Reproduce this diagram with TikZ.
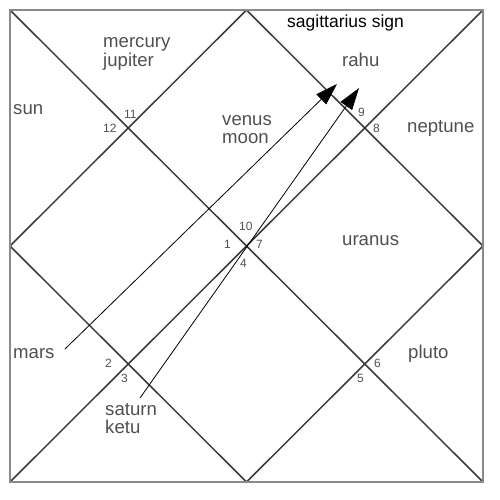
\documentclass[tikz,border=0pt]{standalone}
\usepackage{fontspec}
\setmainfont{Liberation Sans}
\usetikzlibrary{arrows.meta}
\definecolor{labelgray}{HTML}{505050}
\definecolor{framegray}{HTML}{8A8A8A}
\definecolor{linegray}{HTML}{3A3A3A}
\begin{document}
\begin{tikzpicture}[x=1pt,y=-1pt,
  lbl/.style={anchor=base west,inner sep=0pt,text=labelgray,font=\fontsize{18.6}{19}\selectfont},
  num/.style={anchor=base west,inner sep=0pt,text=labelgray,font=\fontsize{12}{13}\selectfont},
  frame/.style={draw=framegray,line width=2.4pt},
  grid/.style={draw=linegray,line width=1.5pt},
  pointer/.style={draw=black,line width=0.8pt,-{Triangle[length=22pt,width=14pt]}}]
\useasboundingbox (0,0) rectangle (500,500);
% corners and midpoints
\coordinate (tl) at (10,10);
\coordinate (tr) at (483,10);
\coordinate (br) at (483,482);
\coordinate (bl) at (10,482);
\coordinate (tm) at (246.5,10);
\coordinate (rm) at (483,246);
\coordinate (bm) at (246.5,482);
\coordinate (lm) at (10,246);
% lines
\draw[grid] (tl) -- (br);
\draw[grid] (bl) -- (tr);
\draw[grid] (tm) -- (rm) -- (bm) -- (lm) -- cycle;
\draw[frame] (tl) rectangle (br);
% labels
\node[black,anchor=base west,inner sep=0pt,font=\fontsize{17.5}{18}\selectfont] (sag) at (287,28) {sagittarius sign};
\node[lbl] (mercury) at (103,48) {mercury};
\node[lbl] (jupiter) at (103,67) {jupiter};
\node[lbl] (sun) at (13,114) {sun};
\node[lbl] (venus) at (222,125) {venus};
\node[lbl] (moon) at (222,143) {moon};
\node[lbl] (rahu) at (342,67) {rahu};
\node[lbl] (neptune) at (407,132) {neptune};
\node[lbl] (uranus) at (342,245) {uranus};
\node[lbl] (mars) at (13,358) {mars};
\node[lbl] (saturn) at (105,415) {saturn};
\node[lbl] (ketu) at (105,433) {ketu};
\node[lbl] (pluto) at (408,358) {pluto};
% house numbers
\node[num] (n11) at (124,118) {11};
\node[num] (n12) at (103,132) {12};
\node[num] (n9) at (358,117) {9};
\node[num] (n8) at (373,132) {8};
\node[num] (n10) at (239,230) {10};
\node[num] (n1) at (224,248) {1};
\node[num] (n7) at (256,248) {7};
\node[num] (n4) at (240,267) {4};
\node[num] (n2) at (105,367) {2};
\node[num] (n3) at (121,382) {3};
\node[num] (n6) at (374,367) {6};
\node[num] (n5) at (357,382) {5};
% arrows
\coordinate (marsend) at (65,349);
\coordinate (marstip) at (337,84);
\coordinate (satend) at (140,398);
\coordinate (sattip) at (359,88);
\draw[pointer] (marsend) -- (marstip);
\draw[pointer] (satend) -- (sattip);
\end{tikzpicture}
\end{document}
